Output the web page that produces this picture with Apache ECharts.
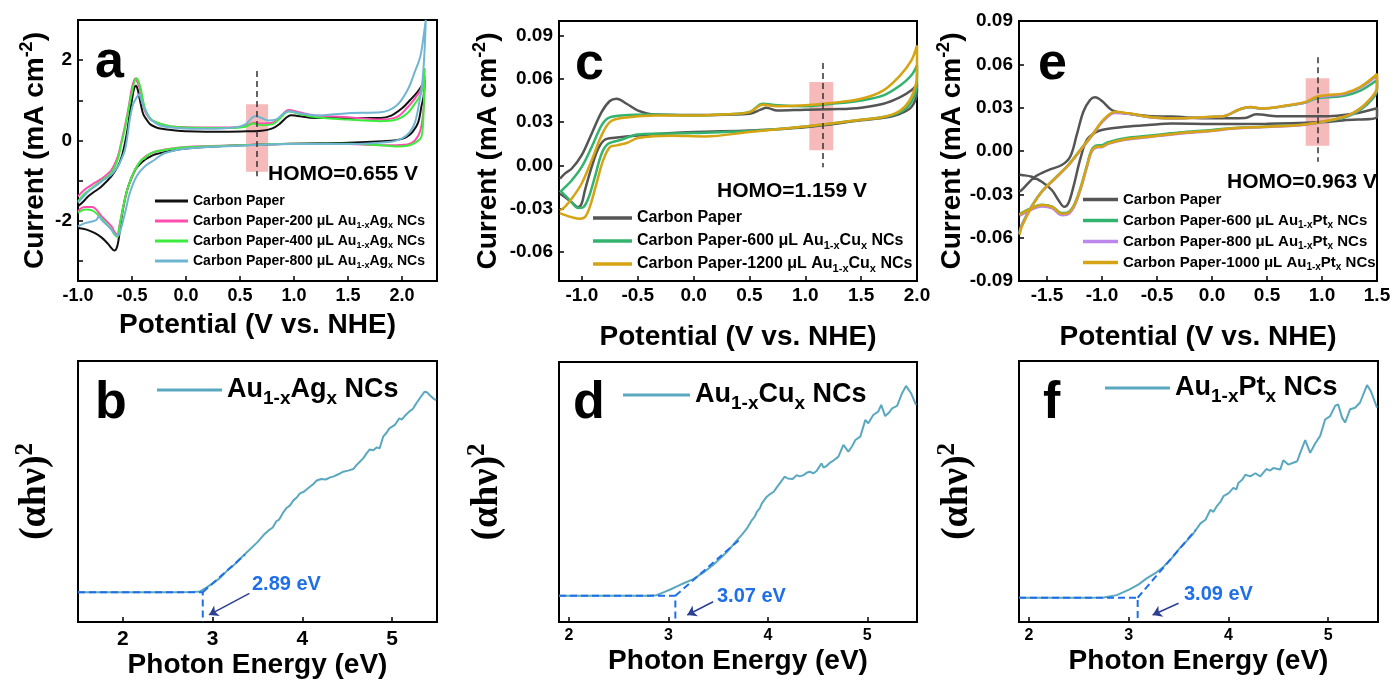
<!DOCTYPE html>
<html><head><meta charset="utf-8">
<script src="https://cdn.jsdelivr.net/npm/echarts@6/dist/echarts.min.js"></script>
<style>html,body{margin:0;padding:0;background:#fff}#c{width:1394px;height:680px}</style>
</head><body><div id="c"></div>
<script>
// ---------------- DATA ----------------
// Panel a : CV, Au1-xAgx
const aCarbon = [[-1.00,-1.64],[-0.95,-1.52],[-0.905,-1.39],[-0.84,-1.26],[-0.78,-1.14],[-0.69,-0.89],[-0.63,-0.64],[-0.595,-0.40],[-0.565,-0.06],[-0.54,0.30],[-0.52,0.69],[-0.50,1.02],[-0.48,1.30],[-0.463,1.36],[-0.445,1.25],[-0.435,1.11],[-0.415,0.86],[-0.395,0.65],[-0.36,0.50],[-0.33,0.40],[-0.28,0.33],[-0.225,0.29],[-0.10,0.25],[0.0,0.23],[0.18,0.22],[0.4,0.22],[0.6,0.23],[0.7,0.24],[0.8,0.30],[0.87,0.42],[0.93,0.57],[0.97,0.63],[1.03,0.61],[1.2,0.56],[1.5,0.56],[1.8,0.56],[1.9,0.62],[2.0,0.80],[2.08,1.02],[2.14,1.20],[2.18,1.35],[2.21,1.50],
  [2.20,1.10],[2.18,0.85],[2.15,0.45],[2.10,0.22],[2.05,0.10],[2.0,0.04],[1.9,-0.01],[1.5,-0.06],[1.0,-0.08],[0.5,-0.12],[0.0,-0.20],[-0.16,-0.27],[-0.29,-0.35],[-0.33,-0.40],[-0.38,-0.48],[-0.43,-0.60],[-0.47,-0.73],[-0.534,-1.14],[-0.565,-1.45],[-0.595,-1.89],[-0.627,-2.52],[-0.645,-2.70],[-0.664,-2.74],[-0.69,-2.68],[-0.72,-2.58],[-0.78,-2.42],[-0.843,-2.31],[-0.92,-2.22],[-1.0,-2.18]];
const a200 = [[-1.0,-1.39],[-0.95,-1.25],[-0.87,-1.10],[-0.78,-0.95],[-0.69,-0.73],[-0.63,-0.39],[-0.60,-0.05],[-0.565,0.36],[-0.53,0.85],[-0.503,1.28],[-0.48,1.50],[-0.466,1.54],[-0.45,1.45],[-0.426,1.28],[-0.40,0.98],[-0.38,0.73],[-0.34,0.56],[-0.30,0.48],[-0.164,0.36],[0.0,0.33],[0.18,0.32],[0.4,0.32],[0.55,0.36],[0.63,0.44],[0.7,0.42],[0.8,0.44],[0.87,0.58],[0.95,0.76],[1.05,0.70],[1.2,0.62],[1.5,0.58],[1.8,0.52],[1.95,0.58],[2.05,0.82],[2.12,1.05],[2.17,1.25],[2.21,1.60],
  [2.20,0.80],[2.17,0.25],[2.12,0.00],[2.05,-0.10],[1.9,-0.12],[1.5,-0.09],[1.0,-0.08],[0.5,-0.12],[0.0,-0.16],[-0.164,-0.21],[-0.318,-0.31],[-0.41,-0.48],[-0.472,-0.73],[-0.534,-1.14],[-0.58,-1.64],[-0.62,-2.18],[-0.633,-2.35],[-0.66,-2.28],[-0.69,-2.14],[-0.78,-1.89],[-0.87,-1.66],[-0.93,-1.66],[-0.966,-1.68],[-1.0,-1.77]];
const a400 = [[-1.0,-1.52],[-0.95,-1.35],[-0.87,-1.18],[-0.78,-1.00],[-0.69,-0.80],[-0.63,-0.45],[-0.60,-0.10],[-0.565,0.30],[-0.53,0.80],[-0.50,1.20],[-0.475,1.48],[-0.455,1.55],[-0.44,1.47],[-0.42,1.30],[-0.40,1.02],[-0.38,0.80],[-0.34,0.58],[-0.30,0.48],[-0.16,0.36],[0.0,0.32],[0.18,0.31],[0.4,0.31],[0.55,0.34],[0.62,0.42],[0.7,0.38],[0.8,0.40],[0.87,0.55],[0.95,0.72],[1.05,0.66],[1.2,0.58],[1.5,0.52],[1.8,0.48],[1.95,0.52],[2.05,0.68],[2.12,0.92],[2.18,1.20],[2.21,1.80],
  [2.20,0.75],[2.18,0.10],[2.12,-0.06],[2.05,-0.13],[1.95,-0.15],[1.8,-0.12],[1.5,-0.08],[1.0,-0.08],[0.5,-0.12],[0.0,-0.17],[-0.16,-0.22],[-0.30,-0.29],[-0.35,-0.36],[-0.38,-0.44],[-0.41,-0.48],[-0.472,-0.73],[-0.534,-1.14],[-0.58,-1.64],[-0.62,-2.20],[-0.633,-2.40],[-0.66,-2.35],[-0.69,-2.22],[-0.78,-1.95],[-0.87,-1.74],[-0.93,-1.72],[-1.0,-1.80]];
const a800 = [[-1.0,-1.55],[-0.95,-1.40],[-0.905,-1.27],[-0.84,-1.14],[-0.78,-1.02],[-0.69,-0.85],[-0.63,-0.64],[-0.595,-0.45],[-0.565,-0.23],[-0.54,0.15],[-0.52,0.53],[-0.49,0.90],[-0.457,1.07],[-0.435,1.15],[-0.415,1.02],[-0.395,0.86],[-0.36,0.66],[-0.33,0.53],[-0.225,0.36],[0.0,0.30],[0.18,0.29],[0.45,0.32],[0.55,0.40],[0.64,0.60],[0.70,0.56],[0.76,0.50],[0.83,0.52],[0.90,0.66],[0.95,0.73],[1.05,0.68],[1.2,0.62],[1.5,0.68],[1.8,0.70],[1.95,0.87],[2.05,1.25],[2.12,1.72],[2.17,2.10],[2.20,2.60],[2.22,3.0],
  [2.21,2.30],[2.19,1.50],[2.16,0.95],[2.12,0.45],[2.07,0.20],[2.0,0.05],[1.9,-0.03],[1.5,-0.09],[1.0,-0.09],[0.5,-0.13],[0.0,-0.20],[-0.2,-0.32],[-0.29,-0.48],[-0.38,-0.64],[-0.457,-0.89],[-0.52,-1.31],[-0.565,-1.81],[-0.61,-2.27],[-0.633,-2.38],[-0.66,-2.33],[-0.69,-2.22],[-0.78,-1.98],[-0.805,-1.89],[-0.83,-1.98],[-0.87,-2.02],[-0.935,-2.06],[-1.0,-2.14]];

// Panel c : CV, Au1-xCux
const cCarbon = [[-1.196,-0.0092],[-1.15,-0.0055],[-1.092,-0.0023],[-1.003,0.0069],[-0.913,0.022],[-0.824,0.0369],[-0.75,0.0446],[-0.69,0.0462],[-0.60,0.0427],[-0.497,0.038],[-0.348,0.0353],[-0.05,0.0350],[0.2,0.0350],[0.5,0.0358],[0.6,0.0386],[0.65,0.040],[0.75,0.038],[1.0,0.0386],[1.3,0.0390],[1.5,0.040],[1.7,0.0427],[1.85,0.0473],[1.95,0.052],[2.0,0.056],
  [2.0,0.0508],[1.95,0.0404],[1.85,0.0358],[1.7,0.033],[1.5,0.0312],[1.0,0.0265],[0.5,0.0242],[0.0,0.0231],[-0.497,0.0208],[-0.705,0.0192],[-0.795,0.0178],[-0.854,0.0116],[-0.913,-0.0012],[-0.973,-0.0173],[-1.003,-0.0265],[-1.033,-0.0289],[-1.092,-0.0254],[-1.15,-0.022],[-1.196,-0.0196]];
const c600 = [[-1.196,-0.0185],[-1.15,-0.0150],[-1.092,-0.0104],[-1.003,-0.0012],[-0.913,0.0127],[-0.824,0.0277],[-0.765,0.0328],[-0.646,0.0346],[-0.348,0.0353],[0.0,0.0346],[0.3,0.0355],[0.5,0.037],[0.62,0.0427],[0.75,0.0416],[1.0,0.041],[1.2,0.0424],[1.5,0.045],[1.7,0.0485],[1.85,0.0554],[1.95,0.0624],[2.0,0.0693],
  [2.0,0.0566],[1.95,0.0439],[1.85,0.0369],[1.7,0.0335],[1.5,0.0316],[1.0,0.027],[0.5,0.0238],[0.0,0.0224],[-0.5,0.0215],[-0.646,0.0178],[-0.765,0.015],[-0.824,0.0081],[-0.884,-0.0081],[-0.944,-0.0231],[-0.988,-0.0289],[-1.033,-0.0295],[-1.107,-0.0242],[-1.18,-0.0185],[-1.196,-0.0175]];
const c1200 = [[-1.196,-0.0312],[-1.15,-0.0285],[-1.092,-0.0231],[-1.003,-0.0127],[-0.913,0.0035],[-0.824,0.0208],[-0.75,0.030],[-0.646,0.0328],[-0.348,0.0346],[0.0,0.0346],[0.3,0.0355],[0.5,0.0369],[0.62,0.042],[0.75,0.041],[1.0,0.0416],[1.2,0.043],[1.5,0.0462],[1.7,0.052],[1.85,0.0624],[1.95,0.0727],[2.0,0.0831],
  [2.0,0.0624],[1.95,0.0473],[1.85,0.038],[1.7,0.0335],[1.5,0.0316],[1.0,0.027],[0.5,0.0231],[0.1,0.0201],[-0.2,0.0206],[-0.497,0.0190],[-0.60,0.0155],[-0.69,0.0139],[-0.75,0.0127],[-0.81,0.0035],[-0.87,-0.0127],[-0.93,-0.0289],[-0.973,-0.0358],[-1.018,-0.0369],[-1.092,-0.0358],[-1.18,-0.0335],[-1.196,-0.0330]];

// Panel e : CV, Au1-xPtx
const eCarbon = [[-1.75,-0.028],[-1.73,-0.027],[-1.609,-0.0178],[-1.488,-0.0132],[-1.366,-0.0097],[-1.29,-0.004],[-1.23,0.0111],[-1.17,0.0272],[-1.109,0.0353],[-1.064,0.0372],[-1.003,0.0348],[-0.912,0.0284],[-0.791,0.0261],[-0.579,0.0242],[-0.37,0.0238],[0.0,0.0226],[0.3,0.0228],[0.4,0.0254],[0.6,0.024],[1.0,0.024],[1.3,0.026],[1.5,0.0296],
  [1.5,0.0237],[1.2,0.0213],[1.0,0.020],[0.5,0.0188],[0.0,0.0187],[-0.366,0.0190],[-0.579,0.018],[-0.791,0.0168],[-0.912,0.0157],[-1.003,0.0145],[-1.064,0.0127],[-1.139,0.0076],[-1.2,-0.0062],[-1.26,-0.0247],[-1.306,-0.0362],[-1.343,-0.0386],[-1.397,-0.0339],[-1.457,-0.027],[-1.548,-0.0213],[-1.639,-0.0178],[-1.73,-0.0166],[-1.75,-0.0165]];
const e600 = [[-1.75,-0.056],[-1.73,-0.0510],[-1.639,-0.0380],[-1.548,-0.0280],[-1.427,-0.0187],[-1.306,-0.0095],[-1.185,0.0020],[-1.079,0.0123],[-0.988,0.0212],[-0.882,0.0268],[-0.761,0.0259],[-0.579,0.0236],[-0.37,0.0226],[0.0,0.0236],[0.1,0.0239],[0.25,0.0287],[0.35,0.0303],[0.45,0.0293],[0.7,0.0315],[0.85,0.0335],[0.95,0.0365],[1.05,0.0372],[1.2,0.0382],[1.35,0.0418],[1.5,0.0491],
  [1.5,0.0420],[1.4,0.0315],[1.3,0.0262],[1.2,0.0232],[1.0,0.0200],[0.8,0.0180],[0.5,0.0170],[0.2,0.0160],[0.0,0.0146],[-0.3,0.0128],[-0.579,0.0106],[-0.791,0.0089],[-0.943,0.0061],[-1.003,0.0040],[-1.048,0.0038],[-1.094,0.0008],[-1.139,-0.0104],[-1.2,-0.0265],[-1.26,-0.0382],[-1.321,-0.0428],[-1.366,-0.0430],[-1.457,-0.0384],[-1.548,-0.0372],[-1.639,-0.0394],[-1.73,-0.0428],[-1.75,-0.0436]];
const e800 = [[-1.75,-0.057],[-1.73,-0.0515],[-1.639,-0.0383],[-1.548,-0.0284],[-1.427,-0.0192],[-1.306,-0.0100],[-1.185,0.0015],[-1.079,0.0118],[-0.988,0.0208],[-0.882,0.0263],[-0.761,0.0258],[-0.579,0.0235],[-0.37,0.0225],[0.0,0.0236],[0.1,0.024],[0.25,0.0288],[0.35,0.0304],[0.45,0.0294],[0.7,0.0317],[0.85,0.0338],[0.95,0.0372],[1.05,0.0380],[1.2,0.0394],[1.35,0.0438],[1.5,0.0520],
  [1.5,0.0436],[1.4,0.0328],[1.3,0.0270],[1.2,0.0236],[1.0,0.0202],[0.8,0.0178],[0.5,0.0166],[0.2,0.0155],[0.0,0.0139],[-0.3,0.0120],[-0.579,0.0096],[-0.791,0.0077],[-0.943,0.0049],[-1.003,0.0026],[-1.048,0.0025],[-1.094,-0.0004],[-1.139,-0.0116],[-1.2,-0.0278],[-1.26,-0.0394],[-1.321,-0.0442],[-1.366,-0.0444],[-1.457,-0.0396],[-1.548,-0.0384],[-1.639,-0.0405],[-1.73,-0.0440],[-1.75,-0.0448]];
const e1000 = [[-1.75,-0.058],[-1.73,-0.0524],[-1.639,-0.0386],[-1.548,-0.0282],[-1.427,-0.0189],[-1.306,-0.0097],[-1.185,0.0019],[-1.079,0.0122],[-0.988,0.0215],[-0.882,0.0272],[-0.761,0.0261],[-0.579,0.0237],[-0.37,0.0226],[0.0,0.0237],[0.1,0.024],[0.25,0.0289],[0.35,0.0305],[0.45,0.0294],[0.7,0.0318],[0.85,0.034],[0.95,0.0376],[1.05,0.0387],[1.2,0.0399],[1.35,0.0445],[1.5,0.0533],
  [1.5,0.0441],[1.4,0.033],[1.3,0.0272],[1.2,0.0237],[1.0,0.0203],[0.8,0.018],[0.5,0.0168],[0.2,0.0157],[0.0,0.0141],[-0.3,0.0123],[-0.579,0.0099],[-0.791,0.0081],[-0.943,0.0053],[-1.003,0.003],[-1.048,0.003],[-1.094,0.0002],[-1.139,-0.0109],[-1.2,-0.027],[-1.26,-0.0386],[-1.321,-0.0432],[-1.366,-0.0434],[-1.457,-0.0386],[-1.548,-0.0374],[-1.639,-0.0397],[-1.73,-0.0432],[-1.75,-0.044]];

// Bottom panels : Tauc plots (arbitrary units 0..100)
const bTauc = [[1.50,11.4],[2.0,11.4],[2.5,11.4],[2.78,11.5],[2.86,11.7],[2.93,13.2],[3.0,14.8],[3.08,16.8],[3.16,19.6],[3.25,22.2],[3.34,25.4],[3.42,28.0],[3.50,30.6],[3.57,33.4],[3.62,35.0],[3.67,36.2],[3.71,38.6],[3.74,39.2],[3.78,41.6],[3.82,43.6],[3.86,44.6],[3.90,46.6],[3.94,47.8],[3.97,49.2],[4.02,50.0],[4.07,51.4],[4.12,52.8],[4.16,54.2],[4.21,54.8],[4.26,54.6],[4.31,55.4],[4.35,55.8],[4.40,56.6],[4.456,57.6],[4.51,58.0],[4.567,58.6],[4.60,60.0],[4.64,61.4],[4.68,62.8],[4.715,64.6],[4.75,66.1],[4.79,65.8],[4.83,66.9],[4.86,66.5],[4.90,71.0],[4.94,72.6],[4.97,74.2],[5.03,75.5],[5.08,78.0],[5.11,77.6],[5.14,78.9],[5.19,80.6],[5.23,81.6],[5.27,83.8],[5.32,86.3],[5.36,88.2],[5.39,88.0],[5.42,86.9],[5.46,85.6],[5.49,85.0]];
const dTauc = [[1.90,10.1],[2.3,10.1],[2.6,10.1],[2.80,10.1],[2.88,10.3],[2.95,11.4],[3.02,12.5],[3.08,13.6],[3.16,15.0],[3.25,16.5],[3.35,19.0],[3.45,21.9],[3.52,24.4],[3.59,27.0],[3.64,29.2],[3.69,31.5],[3.74,33.6],[3.79,36.0],[3.84,39.2],[3.87,40.6],[3.89,42.4],[3.92,43.8],[3.94,45.6],[3.99,48.2],[4.03,49.4],[4.06,50.1],[4.09,51.8],[4.12,53.3],[4.17,55.9],[4.20,55.2],[4.22,55.6],[4.25,55.0],[4.29,56.5],[4.32,56.0],[4.36,56.5],[4.39,57.4],[4.42,57.8],[4.46,57.2],[4.49,58.1],[4.54,61.0],[4.56,59.4],[4.59,60.0],[4.63,61.4],[4.66,62.1],[4.71,63.6],[4.76,68.1],[4.81,65.5],[4.85,67.8],[4.88,70.0],[4.93,71.3],[4.98,77.7],[5.01,76.4],[5.06,79.6],[5.11,80.9],[5.14,83.5],[5.18,79.2],[5.22,80.6],[5.25,82.2],[5.30,83.1],[5.35,88.0],[5.39,90.8],[5.44,88.0],[5.49,83.5]];
const fTauc = [[1.90,9.3],[2.3,9.3],[2.6,9.3],[2.75,9.4],[2.88,10.3],[3.01,12.5],[3.10,14.4],[3.18,16.7],[3.27,18.8],[3.35,21.2],[3.43,24.4],[3.51,28.2],[3.58,31.0],[3.65,34.0],[3.72,37.8],[3.77,39.2],[3.82,43.0],[3.85,42.2],[3.88,44.2],[3.92,46.0],[3.95,48.2],[4.00,49.3],[4.05,51.4],[4.08,50.8],[4.10,53.3],[4.14,54.6],[4.17,56.4],[4.22,55.8],[4.27,57.0],[4.32,55.8],[4.38,58.6],[4.42,58.0],[4.45,59.0],[4.52,58.4],[4.55,62.0],[4.60,60.3],[4.65,61.0],[4.69,61.6],[4.72,64.8],[4.77,69.7],[4.82,64.8],[4.87,68.4],[4.92,71.3],[4.97,77.6],[5.02,78.9],[5.07,82.8],[5.10,83.4],[5.14,78.3],[5.17,76.4],[5.22,81.5],[5.27,82.1],[5.32,84.1],[5.39,90.8],[5.43,88.3],[5.49,82.1]];

// Band-gap construction lines and arrows
const bGapLine = [[1.5,11.4],[2.89,11.4],[2.89,0]];
const bTangent = [[2.89,11.4],[3.36,25.8]];
const bArrow = [[3.41,11.0],[2.96,2.7]];
const dGapLine = [[1.9,10.1],[3.07,10.1],[3.07,0]];
const dTangent = [[3.07,10.1],[3.71,31.5]];
const dArrow = [[3.45,7.8],[3.19,2.7]];
const fGapLine = [[1.9,9.3],[3.09,9.3],[3.09,0]];
const fTangent = [[3.09,9.3],[3.67,35.2]];
const fArrow = [[3.50,7.2],[3.24,2.7]];

// HOMO markers: [x, yTop, yBottom] and highlight boxes [x0, x1, y0, y1]
const aHomo = [0.655, 1.73, -0.89];  const aBox = [0.556, 0.76, 0.90, -0.78];
const cHomo = [1.159, 0.0709, -0.0012]; const cBox = [1.036, 1.25, 0.0577, 0.0106];
const eHomo = [0.963, 0.0649, -0.0074]; const eBox = [0.852, 1.066, 0.0503, 0.0037];

// Axis ticks / labels
const aXTicks = [-1.0,-0.5,0,0.5,1.0,1.5,2.0];
const aYTicks = [-3,-2,-1,0,1,2];
const aYLabels = [-2,0,2];
const cXTicks = [-1.0,-0.5,0,0.5,1.0,1.5,2.0];
const cYTicks = [-0.06,-0.03,0,0.03,0.06,0.09];
const eXTicks = [-1.5,-1.0,-0.5,0,0.5,1.0,1.5];
const eYTicks = [-0.09,-0.06,-0.03,0,0.03,0.06,0.09];
const tXTicks = [2,3,4,5];

// Texts
const legendA = ['{m|Carbon Paper}','{m|Carbon Paper-200 μL Au}{s|1-x}{m|Ag}{s|x}{m| NCs}','{m|Carbon Paper-400 μL Au}{s|1-x}{m|Ag}{s|x}{m| NCs}','{m|Carbon Paper-800 μL Au}{s|1-x}{m|Ag}{s|x}{m| NCs}'];
const legendC = ['{m|Carbon Paper}','{m|Carbon Paper-600 μL Au}{s|1-x}{m|Cu}{s|x}{m| NCs}','{m|Carbon Paper-1200 μL Au}{s|1-x}{m|Cu}{s|x}{m| NCs}'];
const legendE = ['{m|Carbon Paper}','{m|Carbon Paper-600 μL Au}{s|1-x}{m|Pt}{s|x}{m| NCs}','{m|Carbon Paper-800 μL Au}{s|1-x}{m|Pt}{s|x}{m| NCs}','{m|Carbon Paper-1000 μL Au}{s|1-x}{m|Pt}{s|x}{m| NCs}'];
const legendB = '{m|Au}{s|1-x}{m|Ag}{s|x}{m| NCs}';
const legendD = '{m|Au}{s|1-x}{m|Cu}{s|x}{m| NCs}';
const legendF = '{m|Au}{s|1-x}{m|Pt}{s|x}{m| NCs}';
const homoTexts = ['HOMO=0.655 V','HOMO=1.159 V','HOMO=0.963 V'];
const gapTexts = ['2.89 eV','3.07 eV','3.09 eV'];

// ---------------- CHART ----------------
const FONT = '"Liberation Sans", Arial, Helvetica, sans-serif';
const SERIF = '"Liberation Serif", "DejaVu Serif", serif';
const chart = echarts.init(document.getElementById('c'));

const grids = [
  {left:78, top:20, width:359, height:261},   // a 0
  {left:559, top:21, width:358, height:260},  // c 1
  {left:1019, top:21, width:358, height:260}, // e 2
  {left:78, top:361, width:359, height:261},  // b 3
  {left:559, top:362, width:358, height:260}, // d 4
  {left:1019, top:361, width:359, height:261} // f 5
].map(g => Object.assign({show:true, borderColor:'#000', borderWidth:2, backgroundColor:'transparent'}, g));

const curTitle = {
  text: '{m|Current (mA cm}{p|-2}{m|)}',
  rich: {
    m: {fontSize:28, fontWeight:'bold', fontFamily:FONT, color:'#000', lineHeight:34},
    p: {fontSize:18, fontWeight:'bold', fontFamily:FONT, color:'#000', verticalAlign:'top', lineHeight:34}
  }
};
const taucTitle = {
  text: '{m|(αhν)}{p|2}',
  rich: {
    m: {fontSize:38, fontWeight:'bold', fontFamily:SERIF, color:'#000', lineHeight:44},
    p: {fontSize:25, fontWeight:'bold', fontFamily:SERIF, color:'#000', verticalAlign:'top', lineHeight:44}
  }
};

function xAx(gi, min, max, ticks, fmt, fs, margin, name, nameGap) {
  return {
    type:'value', gridIndex:gi, min, max,
    axisLine:{show:true, onZero:false, lineStyle:{color:'#000', width:2}},
    splitLine:{show:false},
    axisTick:{show:true, inside:true, length:5, lineStyle:{color:'#000', width:1.5}, customValues:ticks},
    axisLabel:{show:true, customValues:ticks, formatter:fmt, fontSize:fs, fontWeight:'bold', color:'#000', fontFamily:FONT, margin},
    name, nameLocation:'middle', nameGap,
    nameTextStyle:{fontSize:28, fontWeight:'bold', color:'#000', fontFamily:FONT}
  };
}
function yAx(gi, min, max, ticks, labels, fmt, fs, nameObj, nameGap, showTicks) {
  return {
    type:'value', gridIndex:gi, min, max,
    axisLine:{show:true, onZero:false, lineStyle:{color:'#000', width:2}},
    splitLine:{show:false},
    axisTick:{show:showTicks, inside:true, length:5, lineStyle:{color:'#000', width:1.5}, customValues:ticks || []},
    axisLabel:{show:showTicks, customValues:labels || [], formatter:fmt, fontSize:fs, fontWeight:'bold', color:'#000', fontFamily:FONT, margin:6},
    name: nameObj.text, nameLocation:'middle', nameGap, nameRotate:90,
    nameTextStyle:{rich:nameObj.rich, fontSize:28, fontWeight:'bold', color:'#000', fontFamily:FONT}
  };
}

const f1 = v => Number(v).toFixed(1);
const f2 = v => Number(v).toFixed(2);
const f0 = v => String(Math.round(v));

const xAxis = [
  xAx(0, -1.0, 2.324, aXTicks, f1, 18, 6, 'Potential (V vs. NHE)', 30),
  xAx(1, -1.205, 2.0, cXTicks, f1, 19, 5, 'Potential (V vs. NHE)', 42),
  xAx(2, -1.755, 1.5, eXTicks, f1, 19, 5, 'Potential (V vs. NHE)', 42),
  xAx(3, 1.5, 5.5, tXTicks, f0, 21, 7, 'Photon Energy (eV)', 26),
  xAx(4, 1.9, 5.5, tXTicks, f0, 16, 6, 'Photon Energy (eV)', 25),
  xAx(5, 1.9, 5.5, tXTicks, f0, 16, 6, 'Photon Energy (eV)', 25)
];
const yAxis = [
  yAx(0, -3.5, 3.0, aYTicks, aYLabels, f0, 19, curTitle, 26, true),
  yAx(1, -0.08, 0.10, cYTicks, cYTicks, f2, 19, curTitle, 54, true),
  yAx(2, -0.09, 0.09, eYTicks, eYTicks, f2, 19, curTitle, 44, true),
  yAx(3, 0, 100, null, null, f0, 12, taucTitle, 21, false),
  yAx(4, 0, 100, null, null, f0, 12, taucTitle, 50, false),
  yAx(5, 0, 100, null, null, f0, 12, taucTitle, 40, false)
];

function cv(name, data, color, gi, w, z) {
  return {type:'line', name, data, xAxisIndex:gi, yAxisIndex:gi, symbol:'none', showSymbol:false,
    smooth:0.35, lineStyle:{color, width:w}, itemStyle:{color}, z: z || 3, silent:true, animation:false};
}
function boxSeries(gi, box, homo) {
  return [{
    type:'line', xAxisIndex:gi, yAxisIndex:gi, data:[], z:1, silent:true,
    markArea:{silent:true, itemStyle:{color:'rgba(238,118,118,0.5)'},
      data:[[{coord:[box[0], box[2]]},{coord:[box[1], box[3]]}]]}
  },{
    type:'line', xAxisIndex:gi, yAxisIndex:gi, data:[], z:10, silent:true,
    markLine:{silent:true, symbol:['none','none'], label:{show:false},
      lineStyle:{type:[6,4], color:'#333', width:1.5},
      data:[[{coord:[homo[0], homo[1]]},{coord:[homo[0], homo[2]]}]]}
  }];
}
function gapSeries(gi, gapLine, tangent, arrow) {
  const st = {color:'#1f6fe8', width:2, type:[7,4]};
  return [
    {type:'line', xAxisIndex:gi, yAxisIndex:gi, data:gapLine, symbol:'none', lineStyle:st, z:6, silent:true},
    {type:'line', xAxisIndex:gi, yAxisIndex:gi, data:tangent, symbol:'none', lineStyle:st, z:6, silent:true,
      markLine:{silent:true, symbol:['none','arrow'], symbolSize:9, label:{show:false},
        lineStyle:{type:'solid', color:'#2c3f92', width:1.5},
        data:[[{coord:arrow[0]},{coord:arrow[1]}]]}}
  ];
}

const TEAL = '#5aa8c0';
const series = [
  ...boxSeries(0, aBox, aHomo),
  cv('a0', aCarbon, '#111111', 0, 2),
  cv('a1', a200, '#ff4db0', 0, 2),
  cv('a2', a400, '#3cec3c', 0, 2),
  cv('a3', a800, '#70b5d2', 0, 2),
  ...boxSeries(1, cBox, cHomo),
  cv('c0', cCarbon, '#555555', 1, 2.5),
  cv('c1', c600, '#33b46e', 1, 2.5),
  cv('c2', c1200, '#d6a312', 1, 2.5),
  ...boxSeries(2, eBox, eHomo),
  cv('e0', eCarbon, '#555555', 2, 2.5),
  cv('e1', e600, '#33b46e', 2, 2.5),
  cv('e2', e800, '#bd86ea', 2, 2.5),
  cv('e3', e1000, '#d6a312', 2, 2.5),
  cv('b0', bTauc, TEAL, 3, 2),
  cv('d0', dTauc, TEAL, 4, 2),
  cv('f0', fTauc, TEAL, 5, 2),
  ...gapSeries(3, bGapLine, bTangent, bArrow),
  ...gapSeries(4, dGapLine, dTangent, dArrow),
  ...gapSeries(5, fGapLine, fTangent, fArrow)
];
// Tauc curves: no smoothing to keep wiggles
series.forEach(s => { if (s.name === 'b0' || s.name === 'd0' || s.name === 'f0') s.smooth = false; });

const labelMap = {
  a0:legendA[0], a1:legendA[1], a2:legendA[2], a3:legendA[3],
  c0:legendC[0], c1:legendC[1], c2:legendC[2],
  e0:legendE[0], e1:legendE[1], e2:legendE[2], e3:legendE[3],
  b0:legendB, d0:legendD, f0:legendF
};
function leg(names, left, top, iw, ih, fs, sfs, lh, gap) {
  return {
    data:names, orient:'vertical', left, top, itemWidth:iw, itemHeight:ih, itemGap:gap,
    icon:'rect', selectedMode:false, padding:0,
    formatter: n => labelMap[n],
    textStyle:{fontSize:fs, fontWeight:'bold', color:'#000', fontFamily:FONT, lineHeight:lh,
      rich:{
        m:{fontSize:fs, fontWeight:'bold', color:'#000', fontFamily:FONT, lineHeight:lh},
        s:{fontSize:sfs, fontWeight:'bold', color:'#000', fontFamily:FONT, lineHeight:lh, verticalAlign:'bottom'}
      }}
  };
}
const legend = [
  leg(['a0','a1','a2','a3'], 155, 192, 33, 3, 14, 9, 18, 2),
  leg(['c0','c1','c2'], 593, 208, 39, 3.5, 16, 11, 20, 3),
  leg(['e0','e1','e2','e3'], 1083, 190, 35, 3.5, 15, 10, 19, 2),
  leg(['b0'], 157, 372, 65, 3, 27, 19, 36, 0),
  leg(['d0'], 623, 377, 67, 3, 27, 19, 36, 0),
  leg(['f0'], 1105, 370, 65, 3, 27, 19, 36, 0)
];

function txt(x, y, text, font, fill) {
  return {type:'text', x, y, silent:true, z:100,
    style:{text, font, fill: fill || '#000', align:'left', verticalAlign:'middle'}};
}
const LETTER = 'bold 52px ' + FONT;
const graphic = [
  txt(95, 63, 'a', LETTER), txt(575, 65, 'c', LETTER), txt(1038, 65, 'e', LETTER),
  txt(95, 404, 'b', LETTER), txt(573, 404, 'd', LETTER), txt(1043, 404, 'f', LETTER),
  txt(268, 174, homoTexts[0], 'bold 21px ' + FONT),
  txt(717, 191, homoTexts[1], 'bold 21px ' + FONT),
  txt(1227, 182, homoTexts[2], 'bold 21px ' + FONT),
  txt(252, 584, gapTexts[0], 'bold 20px ' + FONT, '#1f6fe8'),
  txt(717, 596, gapTexts[1], 'bold 20px ' + FONT, '#1f6fe8'),
  txt(1184, 594, gapTexts[2], 'bold 20px ' + FONT, '#1f6fe8')
];

chart.setOption({
  animation:false,
  backgroundColor:'#ffffff',
  grid:grids, xAxis, yAxis, series, legend, graphic
});
</script>
</body></html>
